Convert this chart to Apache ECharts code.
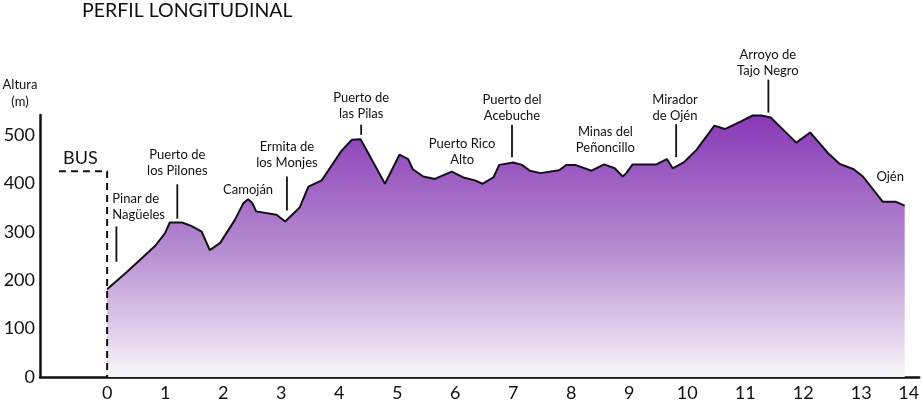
<!DOCTYPE html>
<html><head><meta charset="utf-8">
<script src="https://cdn.jsdelivr.net/npm/echarts@6/dist/echarts.min.js"></script>
<style>html,body{margin:0;padding:0;background:#fff}#c{width:923px;height:401px}</style>
</head><body><div id="c"></div>
<script>
// Profile: distance (km) and altitude (m)
const distKm = [0,0.34,0.63,0.83,1.00,1.08,1.29,1.45,1.63,1.77,1.95,2.20,2.35,2.43,2.50,2.57,2.92,3.07,3.32,3.47,3.70,4.04,4.22,4.37,4.79,5.04,5.19,5.27,5.45,5.65,5.94,6.14,6.34,6.47,6.66,6.76,7.00,7.15,7.29,7.47,7.79,7.92,8.07,8.35,8.57,8.75,8.89,8.95,9.06,9.47,9.65,9.75,9.94,10.16,10.47,10.65,10.91,11.13,11.28,11.44,11.88,12.12,12.43,12.63,12.87,13.03,13.37,13.59,13.75];
const altM = [181,217,249,271,297,319,319,312,300,262,277,324,359,367,360,342,335,321,350,393,406,467,490,491,399,459,450,429,414,409,424,412,406,399,412,438,443,438,426,421,427,438,438,426,439,431,414,421,439,439,450,431,443,469,519,512,527,540,540,536,484,505,462,440,429,414,362,362,354];
// Bus approach (dashed)
const busX = [-0.83, 0, 0];
const busY = [425, 425, 0];
// Tick labels
const xTicks = [0,1,2,3,4,5,6,7,8,9,10,11,12,13,14];
const yTicks = [0,100,200,300,400,500];
// Place names: label position (km, m) and pointer line (km, from m, to m)
const placeNames = ['Pinar de\nNagüeles','Puerto de\nlos Pilones','Camoján','Ermita de\nlos Monjes','Puerto de\nlas Pilas','Puerto Rico\nAlto','Puerto del\nAcebuche','Minas del\nPeñoncillo','Mirador\nde Ojén','Arroyo de\nTajo Negro','Ojén','BUS'];
const placeLabelX = [0.09,1.21,2.43,3.10,4.38,6.12,6.98,8.59,9.79,11.39,13.50,-0.46];
const placeLabelY = [352,442,386,458,560,465,556,490,555,649,413,452];
const pointerX = [0.16,1.21,null,3.10,4.38,null,6.98,null,9.81,11.40,null,null];
const pointerFrom = [238,327,null,344,500,null,454,null,454,546,null,null];
const pointerTo = [311,398,null,414,521,null,521,null,522,614,null,null];

const FONT = 'Lato';
const annoData = placeNames.map((n,i)=>[placeLabelX[i],placeLabelY[i],pointerX[i]==null?NaN:pointerX[i],pointerFrom[i]==null?NaN:pointerFrom[i],pointerTo[i]==null?NaN:pointerTo[i]]);

const chart = echarts.init(document.getElementById('c'));
chart.setOption({
  animation:false,
  backgroundColor:'#fff',
  graphic:[
    {type:'text',x:82,y:11,style:{text:'PERFIL LONGITUDINAL',fontFamily:FONT,fontSize:19.5,align:'left',verticalAlign:'middle',fill:'#111'}},
    {type:'text',x:20,y:93,style:{text:'Altura\n(m)',fontFamily:FONT,fontSize:13,lineHeight:17,align:'center',verticalAlign:'middle',fill:'#111'}}
  ],
  grid:{left:40,right:3.8,top:115,bottom:24,containLabel:false,outerBoundsMode:'none'},
  xAxis:{type:'value',min:-1.157,max:14,
    axisLine:{show:true,onZero:false,lineStyle:{color:'#111',width:2.5}},
    axisTick:{show:false},splitLine:{show:false},
    axisLabel:{customValues:xTicks,fontFamily:FONT,fontSize:18,color:'#111',margin:7,alignMaxLabel:'right',hideOverlap:false}},
  yAxis:{type:'value',min:0,max:541,
    axisLine:{show:true,onZero:false,lineStyle:{color:'#111',width:2.5}},
    axisTick:{show:false},splitLine:{show:false},
    axisLabel:{customValues:yTicks,fontFamily:FONT,fontSize:18,color:'#111',margin:5}},
  series:[
    {type:'line',data:distKm.map((d,i)=>[d,altM[i]]),symbol:'none',clip:false,
     lineStyle:{color:'#111',width:2},
     areaStyle:{opacity:1,color:{type:'linear',x:0,y:115,x2:0,y2:377,global:true,
       colorStops:[{offset:0,color:'#8838b6'},{offset:0.5,color:'#b48ad0'},{offset:1,color:'#f8f6f9'}]}},
     z:2},
    {type:'line',data:busX.map((d,i)=>[d,busY[i]]),symbol:'none',clip:false,
     lineStyle:{color:'#111',width:2,type:[7,5]},z:3},
    {type:'custom',clip:false,data:annoData,encode:{x:0,y:1},z:4,
     renderItem:function(params,api){
       const i=params.dataIndex;
       const p=api.coord([api.value(0),api.value(1)]);
       const isBus = placeNames[i]==='BUS';
       const children=[{type:'text',x:p[0],y:p[1],style:{text:placeNames[i],fontFamily:FONT,
         fontSize:isBus?18:13,lineHeight:16,align:i===0?'left':'center',verticalAlign:'middle',fill:'#111'}}];
       const lx=api.value(2);
       if(!isNaN(lx)){
         const a=api.coord([lx,api.value(3)]),b=api.coord([lx,api.value(4)]);
         children.push({type:'line',shape:{x1:a[0],y1:a[1],x2:b[0],y2:b[1]},style:{stroke:'#111',lineWidth:1.8}});
       }
       return {type:'group',children:children};
     }}
  ]
});
</script></body></html>
